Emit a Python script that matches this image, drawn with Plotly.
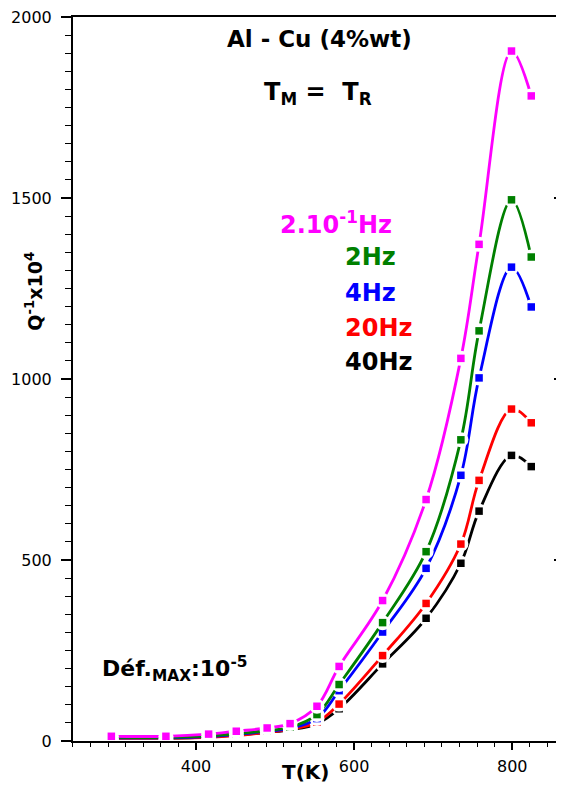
import plotly.graph_objects as go

# ---- data ----
temperature_K = [293, 362, 416, 451, 490, 519, 553, 581, 636, 691, 735, 758, 799, 824]

q_02Hz = [13, 13, 19, 27, 36, 48, 96, 206, 388, 667, 1057, 1372, 1906, 1782]
q_2Hz = [10, 10, 14, 20, 29, 38, 73, 156, 327, 523, 832, 1133, 1495, 1337]
q_4Hz = [9, 9, 12, 18, 27, 35, 62, 139, 301, 477, 734, 1003, 1309, 1199]
q_20Hz = [8, 8, 10, 15, 24, 32, 52, 102, 236, 380, 544, 720, 917, 879]
q_40Hz = [8, 8, 11, 16, 24, 31, 47, 89, 213, 339, 491, 635, 789, 758]

series_labels = ["2.10<sup>-1</sup>Hz", "2Hz", "4Hz", "20Hz", "40Hz"]
series_colors = ["#FF00FF", "#008000", "#0000FF", "#FF0000", "#000000"]
series_values = [q_02Hz, q_2Hz, q_4Hz, q_20Hz, q_40Hz]

x_ticks = [400, 600, 800]
y_ticks = [0, 500, 1000, 1500, 2000]

fig = go.Figure()

# draw black first so magenta ends on top
for vals, col in reversed(list(zip(series_values, series_colors))):
    fig.add_trace(go.Scatter(
        x=temperature_K, y=vals, mode="lines",
        line=dict(color=col, width=2.8, shape="spline", smoothing=1.0),
        hoverinfo="skip", showlegend=False))
    fig.add_trace(go.Scatter(
        x=temperature_K, y=vals, mode="markers",
        marker=dict(symbol="circle", size=15, color="white", line=dict(width=0)),
        hoverinfo="skip", showlegend=False))
    fig.add_trace(go.Scatter(
        x=temperature_K, y=vals, mode="markers",
        marker=dict(symbol="square", size=7.5, color=col, line=dict(width=0)),
        hoverinfo="skip", showlegend=False))

# dummy trace for the right-hand tick axis
fig.add_trace(go.Scatter(x=[], y=[], yaxis="y2", showlegend=False, hoverinfo="skip"))

tick_font = dict(family="DejaVu Sans", size=16, color="black")
bold = "DejaVu Sans"

# the page body adds an 8px offset; figure sized so the plot area sits
# at window x 73..564, y 15..741
fig.update_layout(
    width=556, height=779, autosize=False,
    margin=dict(l=65, r=0, t=7, b=46),
    paper_bgcolor="white", plot_bgcolor="white",
    showlegend=False,
    xaxis=dict(
        range=[244.5, 865.4], tickmode="array", tickvals=x_ticks,
        ticks="outside", ticklen=7, tickwidth=1.6, tickcolor="black",
        showline=True, linewidth=2, linecolor="black", mirror=True,
        showgrid=False, zeroline=False, tickfont=tick_font,
        ticklabelstandoff=3, ticklabeloverflow="allow",
        minor=dict(tick0=400, dtick=200 / 9, ticks="outside", ticklen=4,
                   tickwidth=1.3, tickcolor="black", showgrid=False),
    ),
    yaxis=dict(
        range=[0, 2000], tickmode="array", tickvals=y_ticks,
        ticks="outside", ticklen=10, tickwidth=1.6, tickcolor="black",
        showline=True, linewidth=2, linecolor="black", mirror=False,
        showgrid=False, zeroline=False, tickfont=tick_font,
        ticklabelstandoff=6, ticklabeloverflow="allow",
        minor=dict(tick0=0, dtick=50, ticks="outside", ticklen=6,
                   tickwidth=1.3, tickcolor="black", showgrid=False),
    ),
    yaxis2=dict(
        range=[0, 2000], overlaying="y", side="right", anchor="x",
        tickmode="array", tickvals=y_ticks, showticklabels=False,
        ticks="inside", ticklen=10, tickwidth=1.6, tickcolor="black",
        showline=False, showgrid=False, zeroline=False,
        minor=dict(tick0=0, dtick=50, ticks="inside", ticklen=6,
                   tickwidth=1.3, tickcolor="black", showgrid=False),
    ),
)

ann = []
ann.append(dict(text="<b>Al - Cu (4%wt)</b>", x=0.502, y=0.969, xref="paper", yref="paper",
                xanchor="center", yanchor="middle", showarrow=False,
                font=dict(family=bold, size=23, color="black")))
ann.append(dict(text="<b>T<sub>M</sub> =  T<sub>R</sub></b>", x=0.498, y=0.895, xref="paper", yref="paper",
                xanchor="center", yanchor="middle", showarrow=False,
                font=dict(family=bold, size=24, color="black")))
legend_x = [0.417, 0.549, 0.549, 0.549, 0.549]
legend_y = [0.716, 0.668, 0.619, 0.571, 0.523]
for lab, col, lx, ly in zip(series_labels, series_colors, legend_x, legend_y):
    ann.append(dict(text="<b>" + lab + "</b>", x=lx, y=ly, xref="paper", yref="paper",
                    xanchor="left", yanchor="middle", showarrow=False,
                    font=dict(family=bold, size=24, color=col)))
ann.append(dict(text="<b>Déf.<sub>MAX</sub>:10<sup>-5</sup></b>", x=0.0557, y=0.099,
                xref="paper", yref="paper", xanchor="left", yanchor="middle", showarrow=False,
                font=dict(family=bold, size=22, color="black")))
ann.append(dict(text="<b>T(K)</b>", x=0.474, y=-0.043, xref="paper", yref="paper",
                xanchor="center", yanchor="middle", showarrow=False,
                font=dict(family=bold, size=20, color="black")))
ann.append(dict(text="<b>Q<sup>-1</sup>x10<sup>4</sup></b>", x=-0.08, y=0.6215, xref="paper", yref="paper",
                xanchor="center", yanchor="middle", showarrow=False, textangle=-90,
                font=dict(family=bold, size=19, color="black")))
fig.update_layout(annotations=ann)

fig.write_html("out.html")
